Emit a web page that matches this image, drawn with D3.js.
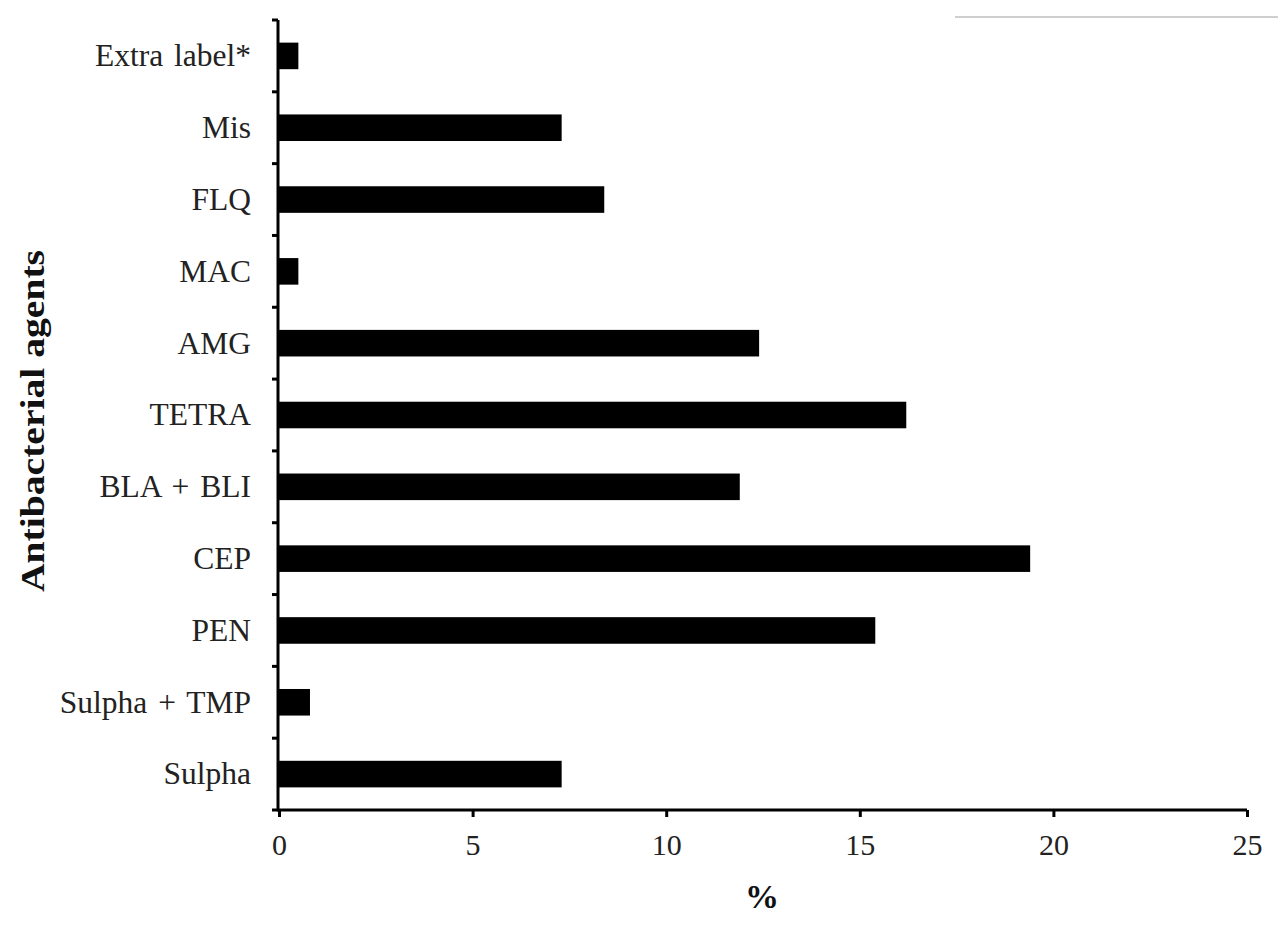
<!DOCTYPE html>
<html><head><meta charset="utf-8">
<script src="https://cdn.jsdelivr.net/npm/d3@7"></script>
<style>body{margin:0;background:#fff}svg{display:block}</style>
</head><body>
<svg id="c" width="1278" height="939"></svg>
<script>
const categories = ["Extra label*","Mis","FLQ","MAC","AMG","TETRA","BLA + BLI","CEP","PEN","Sulpha + TMP","Sulpha"];
const values = [0.5, 7.3, 8.4, 0.5, 12.4, 16.2, 11.9, 19.4, 15.4, 0.8, 7.3];
const xTicks = [0,5,10,15,20,25];

const svg = d3.select("#c");
const L = 279, R = 1247, T = 20, B = 810;
const x = d3.scaleLinear().domain([0,25]).range([L,R]);
const y = d3.scaleBand().domain(categories).range([T,B]).paddingInner(0.63).paddingOuter(0.315);
const font = "'Liberation Serif','Times New Roman',serif";

// decorative gray line top right
svg.append("line").attr("x1",955).attr("x2",1278).attr("y1",17).attr("y2",17)
  .attr("stroke","#cfcfcf").attr("stroke-width",2);

// bars
svg.append("g").selectAll("rect").data(categories).join("rect")
  .attr("x", x(0)).attr("y", d=>y(d))
  .attr("width", (d,i)=>x(values[i])-x(0)).attr("height", y.bandwidth())
  .attr("fill","#000");

// y axis line and ticks at band boundaries
const step = y.step();
const bounds = d3.range(categories.length+1).map(i=>T+i*step);
svg.append("line").attr("x1",L-1).attr("x2",L-1).attr("y1",T).attr("y2",B+1)
  .attr("stroke","#000").attr("stroke-width",3);
svg.append("g").selectAll("line").data(bounds).join("line")
  .attr("x1",L-7).attr("x2",L-1).attr("y1",d=>d).attr("y2",d=>d)
  .attr("stroke","#000").attr("stroke-width",3);

// category labels
svg.append("g").selectAll("text").data(categories).join("text")
  .attr("x",251).attr("y",d=>y(d)+y.bandwidth()/2)
  .attr("dy","0.33em").attr("text-anchor","end")
  .attr("font-family",font).attr("font-size",31.5).attr("fill","#222")
  .attr("word-spacing","3px")
  .text(d=>d);

// x axis
const xAxis = d3.axisBottom(x).tickValues(xTicks).tickSize(7).tickPadding(17).tickFormat(d3.format("d"));
const gx = svg.append("g").attr("transform",`translate(0,${B})`).call(xAxis);
gx.select(".domain").attr("stroke","#000").attr("stroke-width",3).attr("d",`M${L-2},0H${R}`);
gx.selectAll(".tick line").attr("stroke","#000").attr("stroke-width",3);
gx.selectAll(".tick text").attr("font-family",font).attr("font-size",30).attr("fill","#222");

// axis titles
svg.append("text").attr("x",762).attr("y",908).attr("text-anchor","middle")
  .attr("font-family",font).attr("font-weight","bold").attr("font-size",34).attr("fill","#111").text("%");
svg.append("text").attr("transform","translate(44,421) rotate(-90)").attr("text-anchor","middle")
  .attr("font-family",font).attr("font-weight","bold").attr("font-size",33).attr("fill","#111")
  .attr("textLength",342).attr("lengthAdjust","spacingAndGlyphs")
  .text("Antibacterial agents");
</script>
</body></html>
